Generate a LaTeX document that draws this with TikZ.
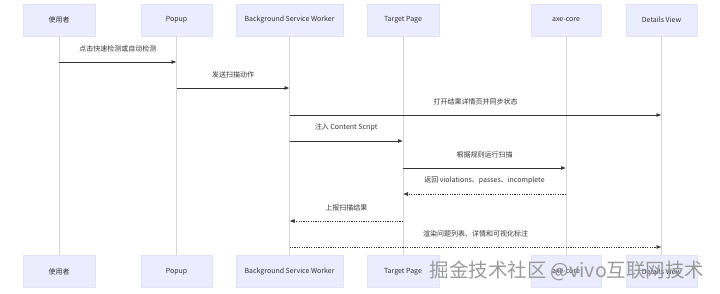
\documentclass[tikz,border=0pt]{standalone}
\usepackage{fontspec}
\setmainfont{Noto Sans CJK SC}
\usetikzlibrary{arrows.meta}
\definecolor{attore}{HTML}{ECECFF}
\definecolor{bordo}{HTML}{E2E2F6}
\definecolor{testo}{HTML}{333333}
\definecolor{vita}{HTML}{D4D4D4}
\definecolor{filigr}{HTML}{9A9A9A}
\tikzset{
  attorebox/.style={draw=bordo, line width=0.4pt, fill=attore, minimum height=32, inner sep=0pt,
    font=\fontsize{7}{8}\selectfont, text=testo},
  msg/.style={draw=testo, line width=0.7pt, -{Latex[length=5pt,width=4pt]}},
  ritorno/.style={msg, dash pattern=on 1.2pt off 1.2pt},
  etich/.style={font=\fontsize{7}{8}\selectfont, text=testo}
}
\begin{document}
\begin{tikzpicture}[x=1pt,y=-1pt]
  \useasboundingbox (0,0) rectangle (720,293);

  % Partecipanti e linee di vita
  \foreach \n/\x/\w/\t in {ut/59/72/使用者, pop/176.5/71/Popup, bsw/289.5/107/Background Service Worker,
      tp/403/72/Target Page, axe/566/70/axe-core, dv/661.5/71/Details View}{
    \node[attorebox, minimum width=\w] (\n-su) at (\x,20) {\t};
    \node[attorebox, minimum width=\w] (\n-giu) at (\x,271.5) {\t};
    \draw[vita, line width=0.5pt] (\n-su) -- (\n-giu);
  }

  % Messaggi
  \foreach \da/\a/\y/\stile/\t in {ut/pop/62/msg/{点击快速检测或自动检测},
      pop/bsw/88/msg/{发送扫描动作},
      bsw/dv/115/msg/{打开结果详情页并同步状态},
      bsw/tp/141/msg/{注入 Content Script},
      tp/axe/168/msg/{根据规则运行扫描},
      axe/tp/194/ritorno/{返回 violations、passes、incomplete},
      tp/bsw/221/ritorno/{上报扫描结果},
      bsw/dv/247/ritorno/{渲染问题列表、详情和可视化标注}}
    \draw[\stile] (\da-su |- 0,\y) -- (\a-su |- 0,\y) node[etich, midway, above=6pt] {\t};

  % Filigrana
  \node[text=filigr, font=\fontsize{19.5}{20}\selectfont, inner sep=0pt] (filigrana) at (567,271)
    {掘金技术社区 @vivo互联网技术};
\end{tikzpicture}
\end{document}
